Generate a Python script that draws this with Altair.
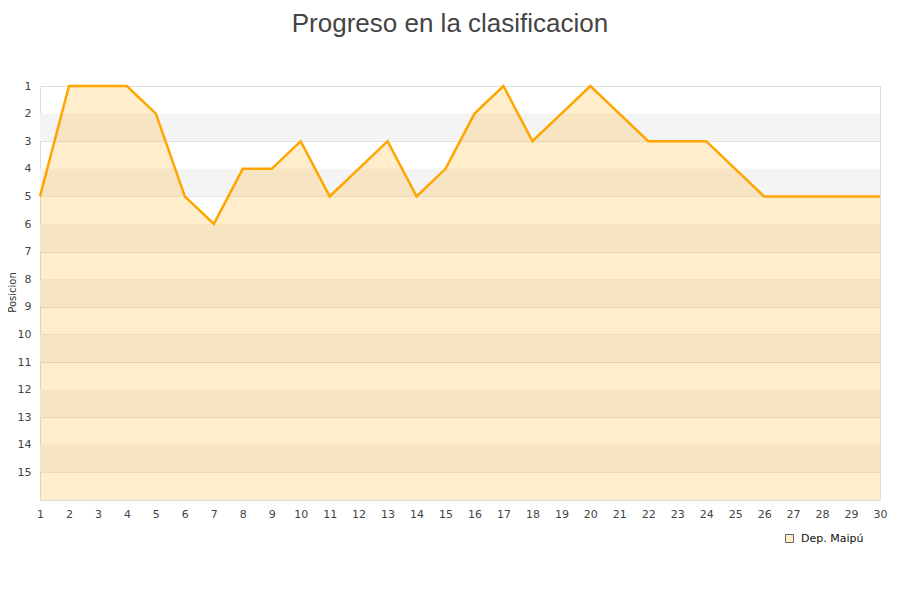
import altair as alt
import pandas as pd

jornadas = list(range(1, 31))
posiciones = [5, 1, 1, 1, 2, 5, 6, 4, 4, 3, 5, 4, 3, 5, 4, 2, 1, 3, 2, 1, 2, 3, 3, 3, 4, 5, 5, 5, 5, 5]
equipo = "Dep. Maipú"
band_starts = [2, 4, 6, 8, 10, 12, 14]
y_ticks = list(range(1, 16))

W, H = 840, 414

df = pd.DataFrame({"jornada": jornadas, "pos": posiciones, "equipo": equipo, "base": 16})
bands = pd.DataFrame({"y0": band_starts, "y1": [s + 1 for s in band_starts]})
leg = pd.DataFrame({"equipo": [equipo], "jornada": [1], "pos": [16]})

yscale = alt.Scale(domain=[1, 16], reverse=True, nice=False, zero=False)
xscale = alt.Scale(domain=[1, 30], nice=False, zero=False)

yaxis = alt.Axis(values=y_ticks, title="Posicion", grid=True, gridColor="#dddddd",
                 tickSize=0, labelPadding=9, domain=False, labelOverlap=False,
                 titleX=-23, titleY=H / 2 - 1, titleAngle=-90,
                 titleFontSize=10, titleFontWeight="normal", titleColor="#333",
                 labelFontSize=11, labelColor="#444", labelFont="DejaVu Sans",
                 titleFont="DejaVu Sans")
xaxis = alt.Axis(values=jornadas, title=None, grid=False, tickSize=0, labelPadding=8,
                 domain=False, labelFontSize=11, labelColor="#444", labelOverlap=False,
                 labelFont="DejaVu Sans", labelFlush=False)

band_layer = alt.Chart(bands).mark_rect(color="#f4f4f4").encode(
    x=alt.value(0), x2=alt.value(W),
    y=alt.Y("y0:Q", scale=yscale, axis=yaxis),
    y2="y1:Q",
)

area_layer = alt.Chart(df).mark_area(opacity=0.2, interpolate="linear", color="#ffa500").encode(
    x=alt.X("jornada:Q", scale=xscale, axis=xaxis),
    y=alt.Y("pos:Q", scale=yscale, axis=yaxis),
    y2="base:Q",
)

line_layer = alt.Chart(df).mark_line(color="#ffa500", strokeWidth=2.5).encode(
    x=alt.X("jornada:Q", scale=xscale, axis=xaxis),
    y=alt.Y("pos:Q", scale=yscale, axis=yaxis),
)

legend_layer = alt.Chart(leg).mark_point(shape="square", filled=True, size=0, opacity=0,
                                         stroke="#666", strokeWidth=1).encode(
    x=alt.X("jornada:Q", scale=xscale, axis=xaxis),
    y=alt.Y("pos:Q", scale=yscale, axis=yaxis),
    color=alt.Color("equipo:N", scale=alt.Scale(range=["#ffedcc"]),
                    legend=alt.Legend(title=None, orient="none", legendX=744, legendY=447,
                                      symbolType="square", symbolSize=64, symbolOpacity=1,
                                      symbolStrokeColor="#666", symbolStrokeWidth=1,
                                      symbolFillColor="#ffedcc",
                                      labelFontSize=11, labelColor="#111", labelOffset=6,
                                      labelFont="DejaVu Sans")),
)

chart = alt.layer(band_layer, area_layer, line_layer, legend_layer).properties(
    width=W, height=H,
    autosize=alt.AutoSizeParams(type="none"),
    padding={"left": 32, "top": 78, "right": 12, "bottom": 80},
    title=alt.TitleParams("Progreso en la clasificacion", fontSize=26, font="Liberation Sans",
                          fontWeight="normal", color="#444", anchor="middle", dx=-10, offset=43),
).configure_view(stroke="#dddddd").configure_axis(labelOverlap=False)

chart.save("out.html", embed_options={"renderer": "svg", "actions": False})
